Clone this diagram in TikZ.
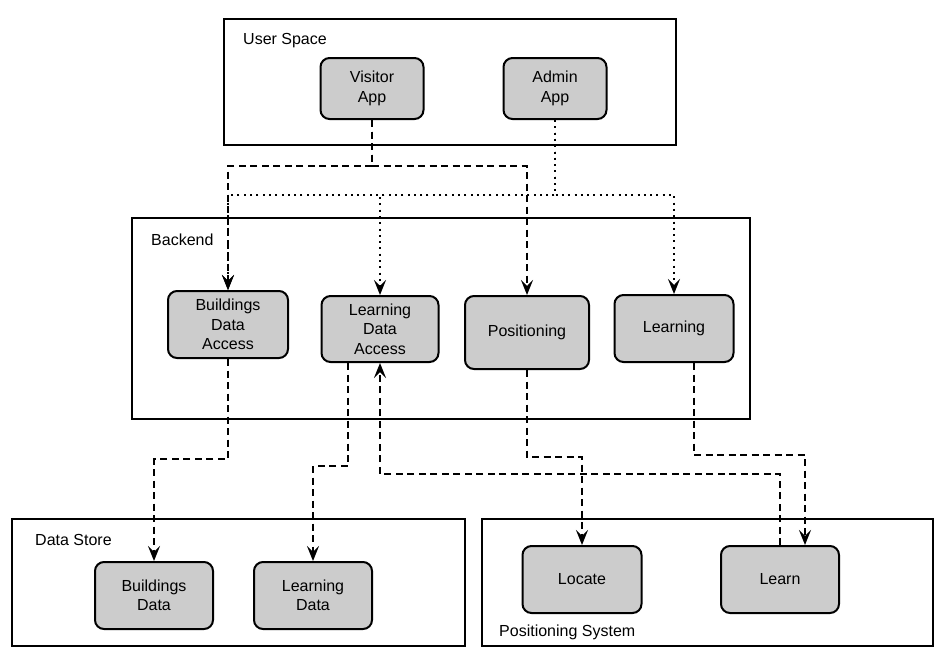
\documentclass[tikz,border=0pt]{standalone}
\usepackage{fontspec}
\setmainfont{Liberation Sans}
\usetikzlibrary{arrows.meta}
\begin{document}
\begin{tikzpicture}[x=1pt,y=-1pt,
  box/.style={draw=black, line width=2pt, fill=boxgray, rounded corners=9pt,
    align=center, inner sep=0pt, font=\fontsize{16pt}{19.5pt}\selectfont},
  container/.style={draw=black, line width=2pt, fill=white, inner sep=0pt},
  clabel/.style={anchor=west, inner sep=0pt, font=\fontsize{16pt}{19pt}\selectfont},
  tip/.style={-{Stealth[length=15pt,width=12pt,inset=6pt]}},
  dashconn/.style={line width=2pt, dash pattern=on 7pt off 4.5pt, tip},
  dotconn/.style={line width=2pt, dash pattern=on 2pt off 4.3pt, tip},
]
\definecolor{boxgray}{HTML}{CCCCCC}
\fill[white] (0,0) rectangle (946,657);
\useasboundingbox (0,0) rectangle (946,657);

% containers
\node[container, minimum width=452pt, minimum height=126pt] (user) at (450,82) {};
\node[container, minimum width=618pt, minimum height=201pt] (backend) at (441,318.5) {};
\node[container, minimum width=453pt, minimum height=127pt] (store) at (238.5,582.5) {};
\node[container, minimum width=451pt, minimum height=127pt] (possys) at (707.5,582.5) {};

\node[clabel] (userlbl) at (243,41) {User Space};
\node[clabel] (backlbl) at (151,240) {Backend};
\node[clabel] (storelbl) at (35,540) {Data Store};
\node[clabel] (poslbl) at (499,632) {Positioning System};

% nodes
\node[box, minimum width=103pt, minimum height=61pt] (visitor) at (372,88.5) {Visitor\\App};
\node[box, minimum width=103pt, minimum height=61pt] (admin) at (555,88.5) {Admin\\App};
\node[box, minimum width=120pt, minimum height=67pt] (bda) at (228,324.5) {Buildings\\Data\\Access};
\node[box, minimum width=117pt, minimum height=66pt] (lda) at (380,329) {Learning\\Data\\Access};
\node[box, minimum width=124pt, minimum height=73pt] (pos) at (527,332.5) {Positioning};
\node[box, minimum width=119pt, minimum height=67pt] (lrn) at (674,328.5) {Learning};
\node[box, minimum width=118pt, minimum height=67pt] (bd) at (154,595.5) {Buildings\\Data};
\node[box, minimum width=118pt, minimum height=67pt] (ld) at (313,595.5) {Learning\\Data};
\node[box, minimum width=119pt, minimum height=67pt] (locate) at (582,579.5) {Locate};
\node[box, minimum width=118pt, minimum height=67pt] (learn) at (780,579.5) {Learn};

% user space -> backend
\draw[dashconn] (visitor.south) -- (visitor.south |- 0,166) -| (bda.north);
\draw[dashconn] (visitor.south) -- (visitor.south |- 0,166) -| (pos.north);
\draw[dotconn] (admin.south) -- (admin.south |- 0,195) -| (bda.north);
\draw[dotconn] (admin.south) -- (admin.south |- 0,195) -| (lda.north);
\draw[dotconn] (admin.south) -- (admin.south |- 0,195) -| (lrn.north);

% backend -> stores / positioning
\draw[dashconn] (bda.south) -- (bda.south |- 0,459) -| (bd.north);
\draw[dashconn] ([xshift=-32pt]lda.south) -- ([xshift=-32pt]lda.south |- 0,466) -| (ld.north);
\draw[dashconn] (learn.north) -- (learn.north |- 0,474) -| (lda.south);
\draw[dashconn] (pos.south) -- (pos.south |- 0,457) -| (locate.north);
\draw[dashconn] ([xshift=20pt]lrn.south) -- ([xshift=20pt]lrn.south |- 0,455) -| ([xshift=25pt]learn.north);
\end{tikzpicture}
\end{document}
